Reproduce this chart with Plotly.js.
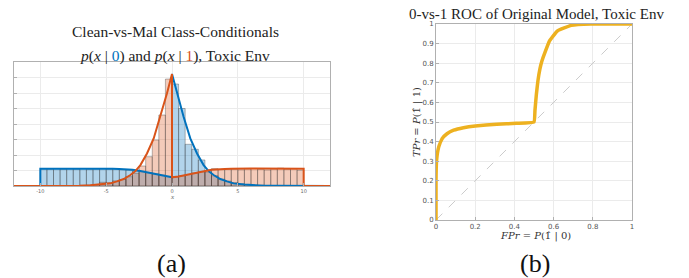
<!DOCTYPE html>
<html><head><meta charset="utf-8">
<script src="https://cdn.plot.ly/plotly-3.0.1.min.js"></script>
<style>html,body{margin:0;padding:0;background:#fff}#c{width:689px;height:278px}</style>
</head><body><div id="c"></div>
<script>
// ---- Data: histogram (bin start -10, width 0.5, 40 bins) ----
const binStart = -10;
const binWidth = 0.5;
const blueCounts = [1.10,1.08,1.12,1.07,1.11,1.09,1.13,1.06,1.10,1.12,1.08,1.11,1.05,1.02,0.95,0.92,0.86,0.78,0.70,0.62,
                    6.58,5.00,2.69,2.37,1.68,0.90,0.66,0.45,0.32,0.22,0.14,0.10,0.07,0.05,0.03,0.02,0.02,0.01,0.01,0.00];
const orangeCounts = [0.00,0.01,0.01,0.02,0.02,0.03,0.04,0.06,0.09,0.24,0.20,0.33,0.42,0.60,0.82,1.29,1.89,2.97,4.58,6.90,
                      0.58,0.66,0.74,0.84,0.92,1.00,1.12,1.06,1.09,1.08,1.05,1.10,1.13,1.07,1.04,1.10,1.15,1.08,1.12,1.02];
// ---- Data: class-conditional density curves ----
const blueX = [-12,-10,-10,-8,-6,-4.5,-4,-3,-2.4,-2,-1.4,-1,-0.5,0,0,0.38,0.88,1.39,1.9,2.4,2.8,3.16,3.67,4.18,4.68,5.5,6.2,7,8,10,12];
const blueY = [0,0,1.12,1.13,1.13,1.12,1.1,1.05,0.97,0.9,0.77,0.7,0.62,0.56,7.23,5.98,4.47,3.07,2.1,1.35,0.95,0.71,0.45,0.3,0.17,0.09,0.05,0.02,0.01,0,0];
const orangeX = [-12,-10,-8,-7,-6.2,-5.5,-4.68,-4.18,-3.67,-3.16,-2.8,-2.4,-1.9,-1.39,-0.88,-0.38,0,0,0.5,1,1.4,2,2.4,3,4,4.5,6,8,10,10,12];
const orangeY = [0,0,0.01,0.02,0.05,0.09,0.17,0.3,0.45,0.71,0.95,1.35,2.1,3.07,4.47,5.98,7.23,0.56,0.62,0.7,0.77,0.9,0.97,1.05,1.1,1.12,1.13,1.13,1.12,0,0];
// ---- Data: ROC curve ----
const fpr = [0,0,0.003,0.014,0.031,0.056,0.09,0.14,0.2,0.31,0.41,0.5,0.505,0.512,0.52,0.53,0.54,0.556,0.58,0.62,0.69,0.79,1];
const tpr = [0,0.2,0.305,0.373,0.415,0.44,0.458,0.471,0.48,0.488,0.493,0.5,0.56,0.64,0.71,0.77,0.81,0.855,0.915,0.965,0.993,1,1];
const diagX = [0,1];
const diagY = [0,1];
const xTicksA = [-10,-5,0,5,10];

const centers = blueCounts.map((_, i) => binStart + binWidth * (i + 0.5));
const BLUE = '#0072BD', ORANGE = '#D95319', YEL = '#EDB120';
const serif = 'Liberation Serif, DejaVu Serif, serif';

const traces = [
  {type:'bar', x:centers, y:blueCounts, width:binWidth, xaxis:'x', yaxis:'y',
   marker:{color:'rgba(0,114,189,0.3)', line:{color:'rgba(60,60,60,0.45)', width:0.8}}, hoverinfo:'skip'},
  {type:'bar', x:centers, y:orangeCounts, width:binWidth, xaxis:'x', yaxis:'y',
   marker:{color:'rgba(217,83,25,0.3)', line:{color:'rgba(60,60,60,0.45)', width:0.8}}, hoverinfo:'skip'},
  {type:'scatter', mode:'lines', x:blueX, y:blueY, xaxis:'x', yaxis:'y', line:{color:BLUE, width:2}},
  {type:'scatter', mode:'lines', x:orangeX, y:orangeY, xaxis:'x', yaxis:'y', line:{color:ORANGE, width:2}},
  {type:'scatter', mode:'lines', x:diagX, y:diagY, xaxis:'x2', yaxis:'y2', line:{color:'#cccccc', width:1, dash:'dash'}},
  {type:'scatter', mode:'lines', x:fpr, y:tpr, xaxis:'x2', yaxis:'y2', line:{color:YEL, width:3.5, shape:'spline', smoothing:0.3}}
];

const axBase = {showline:true, mirror:true, linecolor:'#b0b0b0', linewidth:1, gridcolor:'#ebebeb', gridwidth:1,
  zeroline:false, ticks:'inside', ticklen:3, tickcolor:'#b0b0b0', tickfont:{family:'DejaVu Sans, sans-serif', size:7, color:'#555'}};

const layout = {
  width:689, height:278, margin:{l:0,r:0,t:0,b:0}, paper_bgcolor:'#fff', plot_bgcolor:'#fff',
  showlegend:false, barmode:'overlay', bargap:0,
  xaxis:Object.assign({}, axBase, {domain:[14/689, 330/689], range:[-12,12], tickvals:xTicksA, ticktext:xTicksA.map(String),
    tickfont:{family:'DejaVu Sans, sans-serif', size:5, color:'#666'}, anchor:'y'}),
  yaxis:Object.assign({}, axBase, {domain:[92/278, 216/278], range:[0,8], dtick:1, showticklabels:false, anchor:'x'}),
  xaxis2:Object.assign({}, axBase, {domain:[436/689, 632/689], range:[0,1], dtick:0.2, anchor:'y2'}),
  yaxis2:Object.assign({}, axBase, {domain:[58/278, 254/278], range:[0,1], dtick:0.1, anchor:'x2'}),
  annotations:[
    {text:'Clean-vs-Mal Class-Conditionals', x:175, y:278-32, xref:'paper', yref:'paper', showarrow:false,
     font:{family:serif, size:15.5, color:'#222'}},
    {text:'<i>p</i>(<i>x</i> | <span style="color:'+BLUE+'">0</span>) and <i>p</i>(<i>x</i> | <span style="color:'+ORANGE+'">1</span>), Toxic Env',
     x:175, y:278-56, xref:'paper', yref:'paper', showarrow:false, font:{family:serif, size:15.5, color:'#222'}},
    {text:'<i>x</i>', x:172, y:278-197, xref:'paper', yref:'paper', showarrow:false, font:{family:serif, size:7, color:'#666'}},
    {text:'0-vs-1 ROC of Original Model, Toxic Env', x:536, y:278-14, xref:'paper', yref:'paper', showarrow:false,
     font:{family:serif, size:15, color:'#222'}},
    {text:'<i>FPr</i> = <i>P</i>(1\u0302 | 0)', x:535, y:278-236, xref:'paper', yref:'paper', showarrow:false,
     font:{family:'DejaVu Serif, serif', size:10, color:'#333'}},
    {text:'<i>TPr</i> = <i>P</i>(1\u0302 | 1)', x:417, y:278-122, xref:'paper', yref:'paper', showarrow:false, textangle:-90,
     font:{family:'DejaVu Serif, serif', size:10, color:'#333'}},
    {text:'(a)', x:171, y:278-263, xref:'paper', yref:'paper', showarrow:false, font:{family:serif, size:26, color:'#111'}},
    {text:'(b)', x:535, y:278-263, xref:'paper', yref:'paper', showarrow:false, font:{family:serif, size:26, color:'#111'}}
  ]
};
// convert pixel-based annotation positions into paper fractions
layout.annotations.forEach(a => { a.x = a.x / 689; a.y = a.y / 278; a.xanchor = 'center'; a.yanchor = 'middle'; });

Plotly.newPlot('c', traces, layout, {staticPlot:true, displayModeBar:false});
</script>
</body></html>
